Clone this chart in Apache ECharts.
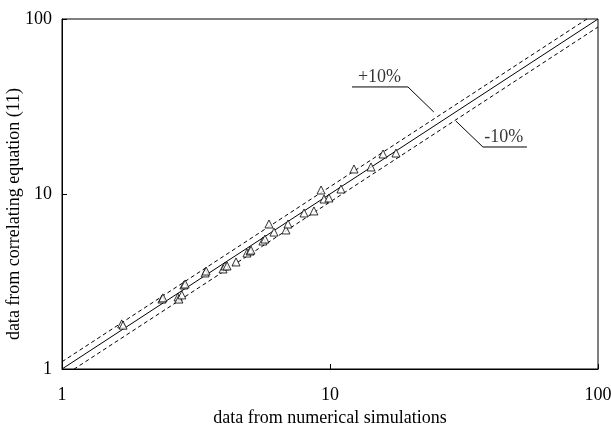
<!DOCTYPE html>
<html>
<head>
<meta charset="utf-8">
<script src="https://cdn.jsdelivr.net/npm/echarts@6/dist/echarts.min.js"></script>
<style>
  html, body { margin: 0; padding: 0; background: #fff; }
  #chart { width: 611px; height: 429px; }
</style>
</head>
<body>
<div id="chart"></div>
<script>
// simulated value vs correlated value
const simX = [1.67, 1.69, 2.36, 2.38, 2.71, 2.73, 2.80, 2.85, 2.88, 3.42, 3.45,
  3.99, 4.06, 4.13, 4.46, 4.90, 5.03, 5.07, 5.62, 5.72, 5.92, 6.18, 6.85, 6.97,
  8.00, 8.71, 9.26, 9.50, 9.91, 10.99, 12.29, 14.22, 15.77, 17.63];
const corrY = [1.81, 1.78, 2.51, 2.55, 2.58, 2.51, 2.65, 3.02, 3.06, 3.54, 3.63,
  3.73, 3.88, 3.88, 4.09, 4.60, 4.72, 4.78, 5.39, 5.53, 6.74, 6.06, 6.23, 6.74,
  7.79, 8.00, 10.54, 9.36, 9.49, 10.68, 13.9, 14.27, 16.93, 17.15];

const lineX = [1, 100];
const upperFactor = 1.1;
const lowerFactor = 0.9;

// annotation leaders (data coords)
const plusLeader = [[12.08, 40.9], [19.54, 40.9], [24.4, 29.4]];
const minusLeader = [[54.3, 18.56], [37.2, 18.56], [29.5, 26.1]];
const plusLabel = [[15.3, 40.9]];
const minusLabel = [[44.5, 18.56]];

const xName = "data from numerical simulations";
const yName = "data from correlating equation (11)";

const fontFamily = "'Liberation Serif', serif";
const fontSize = 18;

const chart = echarts.init(document.getElementById("chart"));

const option = {
  animation: false,
  grid: {
    left: 62,
    right: 13,
    top: 19,
    bottom: 60,
    show: true,
    borderColor: "#000",
    borderWidth: 1,
    containLabel: false,
    outerBoundsMode: "none",
  },
  // y title sits centred on the whole chart, not on the plot
  graphic: [
    {
      type: "text",
      x: 14,
      y: 214,
      rotation: Math.PI / 2,
      style: {
        text: yName,
        align: "center",
        verticalAlign: "middle",
        fill: "#000",
        fontSize: fontSize,
        fontFamily: fontFamily,
      },
    },
  ],
  xAxis: {
    type: "log",
    logBase: 10,
    min: 1,
    max: 100,
    name: xName,
    nameLocation: "middle",
    nameGap: 35,
    nameTextStyle: { color: "#000", fontSize: fontSize, fontFamily: fontFamily },
    axisLine: { show: true, lineStyle: { color: "#000" } },
    axisTick: { inside: true, length: 5, lineStyle: { color: "#000" } },
    axisLabel: { color: "#000", fontSize: fontSize, fontFamily: fontFamily, margin: 17 },
    splitLine: { show: false },
  },
  yAxis: {
    type: "log",
    logBase: 10,
    min: 1,
    max: 100,
    axisLine: { show: true, lineStyle: { color: "#000" } },
    axisTick: { inside: true, length: 5, lineStyle: { color: "#000" } },
    axisLabel: { color: "#000", fontSize: fontSize, fontFamily: fontFamily, margin: 10 },
    splitLine: { show: false },
  },
  series: [
    {
      type: "line",
      data: lineX.map((x) => [x, x]),
      symbol: "none",
      lineStyle: { color: "#000", width: 1 },
      silent: true,
    },
    {
      type: "line",
      data: lineX.map((x) => [x, x * upperFactor]),
      symbol: "none",
      clip: true,
      lineStyle: { color: "#000", width: 1, type: [4, 3] },
      silent: true,
    },
    {
      type: "line",
      data: lineX.map((x) => [x, x * lowerFactor]),
      symbol: "none",
      clip: true,
      lineStyle: { color: "#000", width: 1, type: [4, 3] },
      silent: true,
    },
    {
      type: "line",
      data: plusLeader,
      symbol: "none",
      lineStyle: { color: "#000", width: 1 },
      silent: true,
    },
    {
      type: "line",
      data: minusLeader,
      symbol: "none",
      lineStyle: { color: "#000", width: 1 },
      silent: true,
    },
    {
      type: "scatter",
      data: plusLabel,
      symbolSize: 0,
      label: {
        show: true,
        formatter: "+10%",
        position: "top",
        distance: 1,
        color: "#000",
        fontSize: fontSize,
        fontFamily: fontFamily,
      },
      silent: true,
    },
    {
      type: "scatter",
      data: minusLabel,
      symbolSize: 0,
      label: {
        show: true,
        formatter: "-10%",
        position: "top",
        distance: 1,
        color: "#000",
        fontSize: fontSize,
        fontFamily: fontFamily,
      },
      silent: true,
    },
    {
      type: "scatter",
      data: simX.map((x, i) => [x, corrY[i]]),
      symbol: "triangle",
      symbolSize: 8,
      itemStyle: { color: "#fff", borderColor: "#000", borderWidth: 1 },
      z: 5,
    },
  ],
};

chart.setOption(option);
</script>
</body>
</html>
